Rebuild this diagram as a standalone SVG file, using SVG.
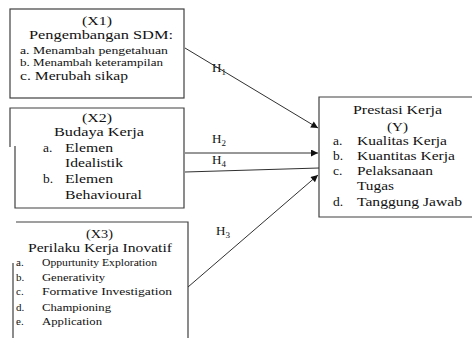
<svg xmlns="http://www.w3.org/2000/svg" width="472" height="338" viewBox="0 0 472 338">
<defs>
<style>
.box{fill:none;stroke:#404040;stroke-width:1.2}
.ln{fill:none;stroke:#303030;stroke-width:1}
.tx text{fill:#111}
.t13{font-size:13px}
.t135{font-size:13.5px}
.t12{font-size:12px}
.t11{font-size:11px}
.t10{font-size:10.5px}
</style>
<marker id="ah" viewBox="0 0 10 10" refX="10" refY="5" markerWidth="9" markerHeight="7" markerUnits="userSpaceOnUse" orient="auto">
<path d="M0,0 L10,5 L0,10 Z" fill="#111"/>
</marker>
</defs>
<rect width="472" height="338" fill="#fff"/>
<g class="tx" font-family="'Liberation Serif', 'DejaVu Serif', 'Times New Roman', serif">

<g id="x1">
<rect class="box" x="10" y="9" width="174" height="89"/>
<text class="t12" x="82" y="25" textLength="30" lengthAdjust="spacingAndGlyphs">(X1)</text>
<text class="t13" x="29" y="39" textLength="144" lengthAdjust="spacingAndGlyphs">Pengembangan SDM:</text>
<text class="t10" x="20" y="54" textLength="148" lengthAdjust="spacingAndGlyphs">a. Menambah pengetahuan</text>
<text class="t10" x="20" y="66" textLength="143" lengthAdjust="spacingAndGlyphs">b. Menambah keterampilan</text>
<text class="t13" x="20" y="80" textLength="108" lengthAdjust="spacingAndGlyphs">c. Merubah sikap</text>
</g>

<g id="x2">
<path class="box" d="M10,147 L10,108 L184,108 L184,208 L15,208 L15,146"/>
<text class="t12" x="82" y="122" textLength="30" lengthAdjust="spacingAndGlyphs">(X2)</text>
<text class="t135" x="54" y="136" textLength="90" lengthAdjust="spacingAndGlyphs">Budaya Kerja</text>
<text class="t135" x="43" y="152">a.</text>
<text class="t135" x="65" y="152" textLength="48" lengthAdjust="spacingAndGlyphs">Elemen</text>
<text class="t135" x="65" y="167" textLength="58" lengthAdjust="spacingAndGlyphs">Idealistik</text>
<text class="t135" x="43" y="183">b.</text>
<text class="t135" x="65" y="183" textLength="48" lengthAdjust="spacingAndGlyphs">Elemen</text>
<text class="t135" x="65" y="199" textLength="77" lengthAdjust="spacingAndGlyphs">Behavioural</text>
</g>

<g id="x3">
<path class="box" d="M16,222 L188,222 L188,338 M13,263 L13,338"/>
<text class="t12" x="86" y="238" textLength="27" lengthAdjust="spacingAndGlyphs">(X3)</text>
<text class="t13" x="28" y="252" textLength="144" lengthAdjust="spacingAndGlyphs">Perilaku Kerja Inovatif</text>
<text class="t11" x="16" y="266">a.</text>
<text class="t11" x="42" y="266" textLength="115" lengthAdjust="spacingAndGlyphs">Oppurtunity Exploration</text>
<text class="t11" x="16" y="281">b.</text>
<text class="t11" x="42" y="281" textLength="63" lengthAdjust="spacingAndGlyphs">Generativity</text>
<text class="t11" x="16" y="295">c.</text>
<text class="t11" x="42" y="295" textLength="130" lengthAdjust="spacingAndGlyphs">Formative Investigation</text>
<text class="t11" x="16" y="311">d.</text>
<text class="t11" x="42" y="311" textLength="69" lengthAdjust="spacingAndGlyphs">Championing</text>
<text class="t11" x="16" y="325">e.</text>
<text class="t11" x="42" y="325" textLength="60" lengthAdjust="spacingAndGlyphs">Application</text>
</g>

<g id="y">
<path class="box" d="M472,97 L319,97 L319,217 L472,217"/>
<text class="t135" x="353" y="114" textLength="89" lengthAdjust="spacingAndGlyphs">Prestasi Kerja</text>
<text class="t135" x="387" y="131" textLength="21" lengthAdjust="spacingAndGlyphs">(Y)</text>
<text class="t135" x="333" y="145">a.</text>
<text class="t135" x="357" y="145" textLength="90" lengthAdjust="spacingAndGlyphs">Kualitas Kerja</text>
<text class="t135" x="333" y="160">b.</text>
<text class="t135" x="357" y="160" textLength="98" lengthAdjust="spacingAndGlyphs">Kuantitas Kerja</text>
<text class="t135" x="333" y="175">c.</text>
<text class="t135" x="357" y="175" textLength="76" lengthAdjust="spacingAndGlyphs">Pelaksanaan</text>
<text class="t135" x="357" y="190" textLength="37" lengthAdjust="spacingAndGlyphs">Tugas</text>
<text class="t135" x="333" y="206">d.</text>
<text class="t135" x="357" y="206" textLength="105" lengthAdjust="spacingAndGlyphs">Tanggung Jawab</text>
</g>

<g id="connectors">
<line class="ln" x1="185" y1="48" x2="318" y2="128" marker-end="url(#ah)"/>
<line class="ln" x1="185" y1="153" x2="318" y2="153" marker-end="url(#ah)"/>
<line class="ln" x1="185" y1="172" x2="319" y2="168"/>
<line class="ln" x1="188" y1="287" x2="318" y2="175" marker-end="url(#ah)"/>
<text class="t13" x="212" y="72">H<tspan font-size="9" dy="3">1</tspan></text>
<text class="t13" x="212" y="143">H<tspan font-size="9" dy="3">2</tspan></text>
<text class="t13" x="212" y="164">H<tspan font-size="9" dy="3">4</tspan></text>
<text class="t13" x="216" y="235">H<tspan font-size="9" dy="3">3</tspan></text>
</g>
</g>
</svg>
